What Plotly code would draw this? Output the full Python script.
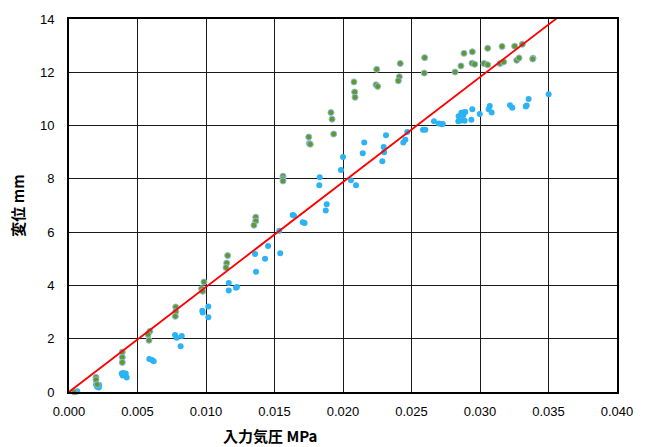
import plotly.graph_objects as go

# Series: loading (green) and unloading (blue) — input air pressure [MPa] vs displacement [mm]
green_x = [0.00039, 0.00197, 0.00197, 0.00206, 0.00389, 0.00389, 0.00389,
           0.0059, 0.00577, 0.00584, 0.00779, 0.00779, 0.00776,
           0.00985, 0.00968, 0.00976, 0.01158, 0.01151, 0.01146,
           0.01363, 0.01363, 0.0135, 0.01562, 0.01562, 0.01562,
           0.0175, 0.01754, 0.01761, 0.01912, 0.0192, 0.01932,
           0.0208, 0.02085, 0.02088, 0.02246, 0.02241, 0.02253,
           0.02418, 0.02411, 0.02404, 0.02596, 0.02593,
           0.02818, 0.02861, 0.02883, 0.02944, 0.02942, 0.02961,
           0.03029, 0.03056, 0.03056, 0.03146, 0.03173, 0.03161,
           0.03253, 0.03309, 0.03268, 0.03285, 0.03387, 0.03385]
green_y = [0.0, 0.55, 0.46, 0.28, 1.50, 1.30, 1.11,
           2.28, 2.16, 1.94, 3.19, 3.02, 2.84,
           4.13, 3.88, 3.78, 5.12, 4.84, 4.67,
           6.56, 6.42, 6.26, 8.10, 8.00, 7.92,
           9.57, 9.33, 9.30, 10.49, 10.24, 9.68,
           11.64, 11.26, 11.06, 12.11, 11.53, 11.47,
           12.33, 11.83, 11.68, 12.55, 11.97,
           12.01, 12.24, 12.71, 12.77, 12.34, 12.30,
           12.33, 12.28, 12.90, 12.33, 12.39, 12.97,
           12.98, 13.05, 12.45, 12.54, 12.53, 12.50]

blue_x = [0.0003, 0.0005, 0.0006, 0.00197, 0.00217, 0.00221, 0.00205,
          0.00385, 0.00396, 0.00414, 0.00421, 0.00392,
          0.00586, 0.00606, 0.00618,
          0.00774, 0.00786, 0.00823, 0.00815,
          0.00973, 0.00976, 0.01017, 0.01017,
          0.01166, 0.01166, 0.01219, 0.01226,
          0.01358, 0.01365, 0.01431, 0.01453, 0.01542, 0.01535,
          0.01633, 0.01642, 0.01706, 0.0172, 0.01881, 0.01874,
          0.0183, 0.01827, 0.0200, 0.01985, 0.02058, 0.02095,
          0.02155, 0.02144, 0.02314, 0.02297, 0.0230, 0.02287,
          0.02469, 0.02455, 0.0244, 0.02584, 0.02601,
          0.02664, 0.02699, 0.0272, 0.02728,
          0.02844, 0.02864, 0.02883, 0.02893, 0.02878,
          0.02842, 0.02861, 0.02888, 0.02937, 0.02944, 0.02998,
          0.03063, 0.03071, 0.03085, 0.03219, 0.03236,
          0.03334, 0.03341, 0.03355, 0.03501]
blue_y = [0.02, 0.0, 0.03, 0.28, 0.17, 0.26, 0.20,
          0.69, 0.71, 0.69, 0.54, 0.62,
          1.24, 1.20, 1.15,
          2.14, 2.04, 2.10, 1.72,
          3.05, 2.98, 3.21, 2.81,
          4.09, 3.81, 3.91, 3.94,
          5.18, 4.51, 5.00, 5.48, 5.21, 6.05,
          6.64, 6.62, 6.37, 6.34, 7.05, 6.81,
          8.06, 7.76, 8.82, 8.33, 7.95, 7.76,
          9.36, 8.96, 9.64, 9.20, 9.00, 8.66,
          9.76, 9.47, 9.36, 9.84, 9.84,
          10.16, 10.08, 10.05, 10.06,
          10.35, 10.48, 10.50, 10.51, 10.39,
          10.16, 10.19, 10.18, 10.22, 10.61, 10.43,
          10.61, 10.73, 10.49, 10.76, 10.67,
          10.72, 10.75, 11.00, 11.18]

fit_slope = 394.0  # mm per MPa, linear fit through origin
x_range = [0.0, 0.040]
y_range = [0, 14]
x_ticks = [0.000, 0.005, 0.010, 0.015, 0.020, 0.025, 0.030, 0.035, 0.040]
x_tick_labels = ["0.000", "0.005", "0.010", "0.015", "0.020", "0.025", "0.030", "0.035", "0.040"]
y_ticks = [0, 2, 4, 6, 8, 10, 12, 14]

fig = go.Figure()
fig.add_trace(go.Scatter(x=blue_x, y=blue_y, mode="markers",
                         marker=dict(size=6, color="#2db3f3", line=dict(width=0)),
                         cliponaxis=False, showlegend=False))
fig.add_trace(go.Scatter(x=green_x, y=green_y, mode="markers",
                         marker=dict(size=6, color="#5e9b2c", line=dict(width=1, color="#93b7e3")),
                         cliponaxis=False, showlegend=False))
fig.add_trace(go.Scatter(x=x_range, y=[fit_slope * v for v in x_range], mode="lines",
                         line=dict(color="#ff0000", width=1.8), showlegend=False))

tick_font = dict(family="Liberation Sans, Arial, sans-serif", size=13, color="#000")
title_font = dict(family="Noto Sans CJK JP, sans-serif", size=15, color="#000")

fig.update_layout(
    width=664, height=447,
    margin=dict(l=69, r=47, t=12, b=55),
    paper_bgcolor="white", plot_bgcolor="white",
    xaxis=dict(range=x_range, tickvals=x_ticks, ticktext=x_tick_labels,
               showgrid=True, gridcolor="#1a1a1a", gridwidth=1,
               showline=True, linecolor="#000", linewidth=2, mirror=True,
               zeroline=False, ticks="", tickfont=tick_font, ticklabelstandoff=6),
    yaxis=dict(range=y_range, tickvals=y_ticks,
               showgrid=True, gridcolor="#1a1a1a", gridwidth=1,
               showline=True, linecolor="#000", linewidth=2, mirror=True,
               zeroline=False, ticks="", tickfont=tick_font, ticklabelstandoff=10,
               title=dict(text="<b>変位 mm</b>", font=title_font, standoff=12)),
    annotations=[dict(text="<b>入力気圧 MPa</b>", xref="paper", yref="paper",
                      x=0.367, y=-0.116, xanchor="center", yanchor="middle",
                      showarrow=False, font=title_font)],
)

fig.write_html("out.html",
               config={"displayModeBar": False, "staticPlot": True},
               post_script="document.body.style.margin='0';document.body.style.overflow='hidden';")
